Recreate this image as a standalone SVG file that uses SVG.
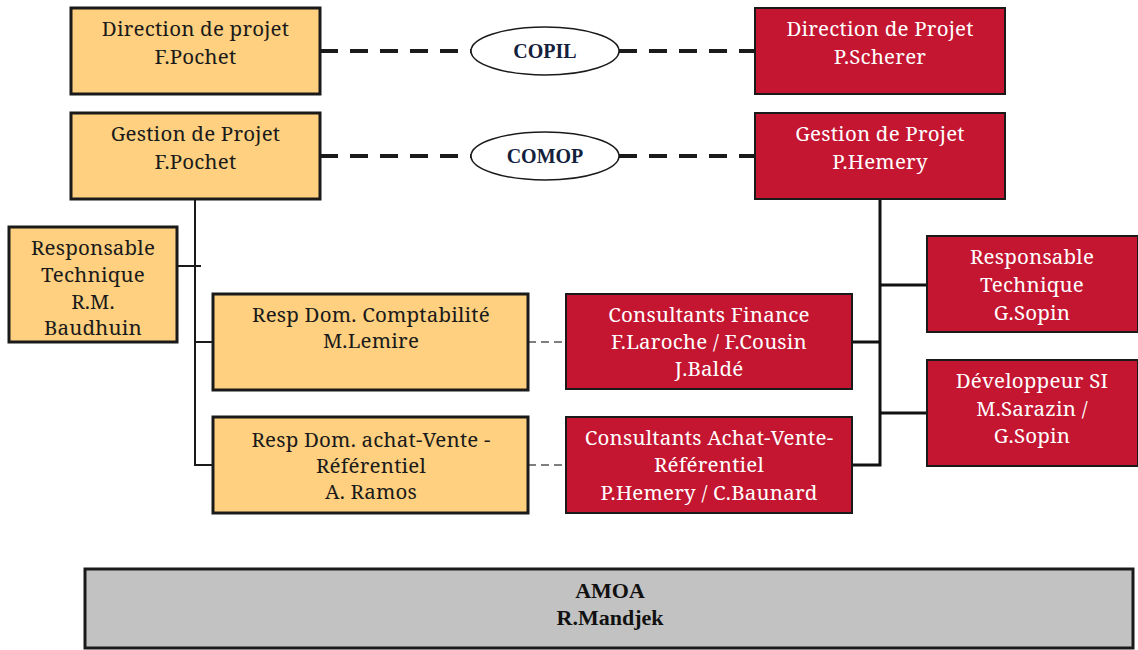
<svg xmlns="http://www.w3.org/2000/svg" width="1138" height="650" viewBox="0 0 1138 650">
  <style>
    .moa rect { fill: #fed07f; stroke: #1a1a1a; stroke-width: 3; }
    .moe rect { fill: #c41531; stroke: #1a1a1a; stroke-width: 2; }
    .moa text { fill: #1a1a1a; }
    .moe text { fill: #ffffff; }
    .instance ellipse { fill: #ffffff; stroke: #1a1a1a; stroke-width: 1.5; }
    .instance text { fill: #14213d; }
    .amoa rect { fill: #c2c2c2; stroke: #1a1a1a; stroke-width: 3; }
    .amoa text { fill: #111111; }
    .link { stroke: #1a1a1a; stroke-width: 2; fill: none; }
    .link-strong { stroke: #111111; stroke-width: 3; fill: none; }
    .committee { stroke: #1a1a1a; stroke-width: 4; stroke-dasharray: 18 12; fill: none; }
    .peer { stroke: #555555; stroke-width: 1.5; stroke-dasharray: 8 5; fill: none; }
  </style>

  <rect width="1138" height="650" fill="#ffffff"/>

  <g id="connectors">
    <!-- committee links -->
    <line class="committee" x1="320" y1="51" x2="471" y2="51"/>
    <line class="committee" x1="619" y1="51" x2="755" y2="51"/>
    <line class="committee" x1="320" y1="156" x2="471" y2="156"/>
    <line class="committee" x1="619" y1="156" x2="755" y2="156"/>
    <!-- client side tree -->
    <polyline class="link" points="195,199 195,465 213,465"/>
    <line class="link" x1="177" y1="266" x2="201" y2="266"/>
    <line class="link" x1="195" y1="342" x2="213" y2="342"/>
    <!-- peer links between domain leads and consultants -->
    <line class="peer" x1="528" y1="342" x2="566" y2="342"/>
    <line class="peer" x1="528" y1="465" x2="566" y2="465"/>
    <!-- provider side tree -->
    <polyline class="link-strong" points="880,199 880,465 852,465"/>
    <line class="link-strong" x1="880" y1="285" x2="927" y2="285"/>
    <line class="link-strong" x1="852" y1="342" x2="880" y2="342"/>
    <line class="link-strong" x1="880" y1="413" x2="927" y2="413"/>
  </g>

  <g font-family="'Noto Serif', 'Liberation Serif', serif" font-size="20.5" letter-spacing="0.2" text-anchor="middle">
    <g id="direction-moa" class="moa">
      <rect x="71" y="8" width="249" height="86"/>
      <text x="195.5" y="36">Direction de projet</text>
      <text x="195.5" y="64">F.Pochet</text>
    </g>

    <g id="gestion-moa" class="moa">
      <rect x="71" y="113" width="249" height="86"/>
      <text x="195.5" y="141">Gestion de Projet</text>
      <text x="195.5" y="169">F.Pochet</text>
    </g>

    <g id="direction-moe" class="moe">
      <rect x="755" y="8" width="250" height="86"/>
      <text x="880" y="36">Direction de Projet</text>
      <text x="880" y="64">P.Scherer</text>
    </g>

    <g id="gestion-moe" class="moe">
      <rect x="755" y="113" width="250" height="86"/>
      <text x="880" y="141">Gestion de Projet</text>
      <text x="880" y="169">P.Hemery</text>
    </g>

    <g id="resp-technique-moa" class="moa">
      <rect x="9" y="227" width="168" height="115"/>
      <text x="93" y="255">Responsable</text>
      <text x="93" y="282">Technique</text>
      <text x="93" y="309">R.M.</text>
      <text x="93" y="335">Baudhuin</text>
    </g>

    <g id="resp-comptabilite" class="moa">
      <rect x="213" y="294" width="315" height="96"/>
      <text x="371" y="322">Resp Dom. Comptabilité</text>
      <text x="371" y="348">M.Lemire</text>
    </g>

    <g id="resp-achat-vente" class="moa">
      <rect x="213" y="417" width="315" height="96"/>
      <text x="371" y="447">Resp Dom. achat-Vente -</text>
      <text x="371" y="473">Référentiel</text>
      <text x="371" y="499">A. Ramos</text>
    </g>

    <g id="consultants-finance" class="moe">
      <rect x="566" y="294" width="286" height="95"/>
      <text x="709" y="322">Consultants Finance</text>
      <text x="709" y="349">F.Laroche / F.Cousin</text>
      <text x="709" y="376">J.Baldé</text>
    </g>

    <g id="consultants-achat-vente" class="moe">
      <rect x="566" y="417" width="286" height="96"/>
      <text x="709" y="445">Consultants Achat-Vente-</text>
      <text x="709" y="472">Référentiel</text>
      <text x="709" y="500">P.Hemery / C.Baunard</text>
    </g>

    <g id="resp-technique-moe" class="moe">
      <rect x="927" y="236" width="211" height="96"/>
      <text x="1032" y="264">Responsable</text>
      <text x="1032" y="292">Technique</text>
      <text x="1032" y="320">G.Sopin</text>
    </g>

    <g id="developpeur-si" class="moe">
      <rect x="927" y="360" width="211" height="106"/>
      <text x="1032" y="388">Développeur SI</text>
      <text x="1032" y="416">M.Sarazin /</text>
      <text x="1032" y="443">G.Sopin</text>
    </g>
  </g>

  <g font-family="'Liberation Serif', 'Times New Roman', serif" font-weight="bold" text-anchor="middle">
    <g id="copil" class="instance">
      <ellipse cx="545" cy="51" rx="74" ry="24"/>
      <text x="545" y="58" font-size="20">COPIL</text>
    </g>

    <g id="comop" class="instance">
      <ellipse cx="545" cy="156" rx="74" ry="24"/>
      <text x="545" y="163" font-size="20">COMOP</text>
    </g>

    <g id="amoa" class="amoa">
      <rect x="85" y="569" width="1048" height="79"/>
      <text x="610" y="598" font-size="22">AMOA</text>
      <text x="610" y="625" font-size="22">R.Mandjek</text>
    </g>
  </g>
</svg>
